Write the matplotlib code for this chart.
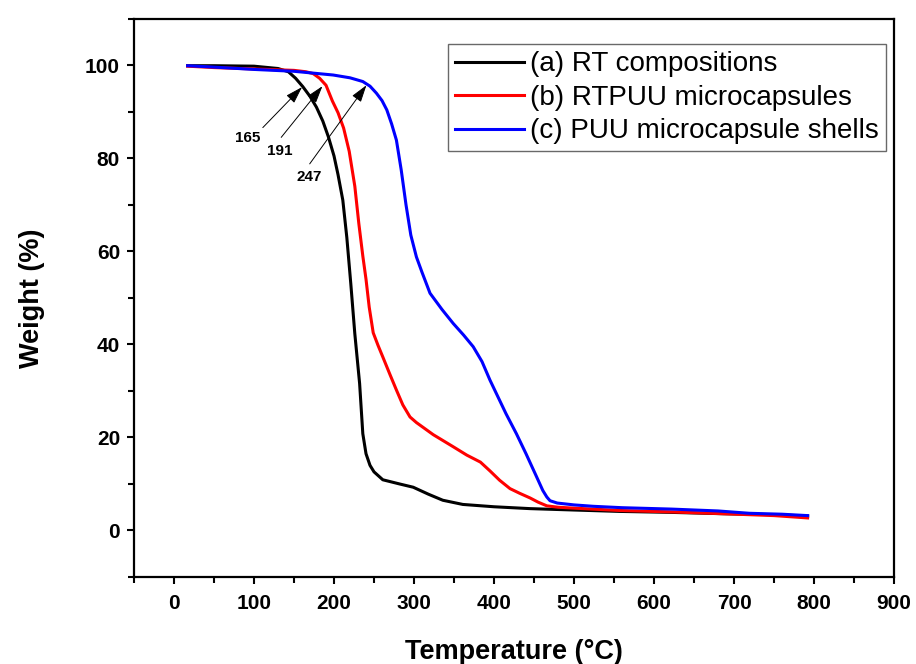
import matplotlib
matplotlib.use('Agg')
import matplotlib.pyplot as plt

plt.rcParams['font.family'] = ['Liberation Sans', 'DejaVu Sans']

# (a) RT compositions
temp_a = [17, 50, 100, 130, 143, 152, 161, 170, 178, 186, 193, 200, 205, 211, 216, 221,
          226, 232, 236, 240, 245, 250, 261, 282, 299, 318, 336, 361, 400, 445, 500, 557,
          620, 687, 750, 792]
weight_a = [99.9, 99.9, 99.8, 99.3, 98.6, 97.2, 95.4, 93.3, 91.0, 88.0, 84.6, 80.5, 76.5,
            71.0, 63.0, 53.0, 42.3, 31.6, 20.8, 16.5, 14.0, 12.6, 10.9, 10.0, 9.3, 7.8,
            6.5, 5.6, 5.1, 4.7, 4.4, 4.1, 3.9, 3.6, 3.4, 3.1]

# (b) RTPUU microcapsules
temp_b = [17, 50, 100, 150, 165, 174, 182, 190, 198, 205, 212, 219, 226, 231, 236, 240,
          244, 249, 255, 261, 270, 278, 286, 295, 303, 324, 349, 366, 383, 395, 407, 420,
          432, 445, 455, 466, 480, 500, 557, 620, 687, 750, 792]
weight_b = [99.8, 99.5, 99.2, 98.9, 98.6, 98.2, 97.2, 95.7, 92.3, 89.8, 86.5, 81.5, 74.0,
            66.0, 59.0, 54.0, 48.0, 42.5, 39.8, 37.3, 33.5, 30.2, 27.0, 24.4, 23.2, 20.6,
            18.0, 16.2, 14.7, 12.8, 10.8, 9.0, 8.0, 7.0, 6.1, 5.3, 5.0, 4.8, 4.3, 4.0,
            3.6, 3.2, 2.7]

# (c) PUU microcapsule shells
temp_c = [17, 50, 100, 150, 199, 220, 236, 245, 253, 260, 266, 272, 278, 284, 290, 296,
          303, 310, 320, 335, 349, 362, 374, 385, 395, 405, 415, 428, 440, 452, 461, 466,
          470, 479, 500, 524, 560, 622, 680, 719, 760, 792]
weight_c = [99.9, 99.6, 99.1, 98.7, 97.9, 97.3, 96.5, 95.5, 94.0, 92.4, 90.4, 87.4, 83.9,
            77.5, 70.0, 63.5, 58.8, 55.5, 51.0, 47.5, 44.5, 42.0, 39.5, 36.3, 32.3, 28.7,
            25.1, 20.8, 16.5, 12.0, 8.6, 7.2, 6.4, 5.9, 5.5, 5.2, 4.9, 4.6, 4.2, 3.7,
            3.5, 3.2]

labels = ['(a) RT compositions', '(b) RTPUU microcapsules', '(c) PUU microcapsule shells']

# onset temperatures: label, arrow tail, arrow tip, text position
onsets = [('165', (111, 86.6), (160, 95.3), (92.5, 84.3)),
          ('191', (134, 84.5), (185.5, 95.5), (132, 81.6)),
          ('247', (169.6, 78.8), (240.5, 95.7), (168.8, 76.0))]

fig = plt.figure(figsize=(9.16, 6.64), dpi=100)
ax = fig.add_axes([0.1463, 0.131, 0.8297, 0.8408])

ax.plot(temp_a, weight_a, color='black', lw=2.2, label=labels[0])
ax.plot(temp_b, weight_b, color='#ff0000', lw=2.2, label=labels[1])
ax.plot(temp_c, weight_c, color='#0000ff', lw=2.2, label=labels[2])

for txt, tail, tip, tpos in onsets:
    ax.annotate('', xy=tip, xytext=tail,
                arrowprops=dict(arrowstyle='-|>,head_length=0.7,head_width=0.22',
                                color='black', lw=0.7, shrinkA=0, shrinkB=0,
                                mutation_scale=15))
    ax.text(tpos[0], tpos[1], txt, fontsize=11, fontweight='bold',
            ha='center', va='center')

ax.set_xlim(-50, 900)
ax.set_ylim(-10, 110)
ax.set_xticks(range(0, 901, 100))
ax.set_xticks(range(-50, 901, 50), minor=True)
ax.set_yticks(range(0, 101, 20))
ax.set_yticks(range(-10, 111, 10), minor=True)
ax.tick_params(which='major', direction='out', length=5, width=1.5,
               labelsize=15, pad=5)
ax.tick_params(axis='x', which='major', pad=7)
ax.tick_params(which='minor', direction='out', length=4, width=1.5)
for lab in ax.get_xticklabels() + ax.get_yticklabels():
    lab.set_fontweight('bold')
for sp in ax.spines.values():
    sp.set_linewidth(1.6)

ax.set_xlabel('Temperature (°C)', fontsize=19.5, fontweight='bold', labelpad=19)
ax.set_ylabel('Weight (%)', fontsize=19.5, fontweight='bold', labelpad=29)

leg = ax.legend(loc='upper right', bbox_to_anchor=(0.989, 0.954), fontsize=20,
                frameon=True, fancybox=False, handlelength=2.5, handletextpad=0.2,
                labelspacing=0.27, borderpad=0.25, borderaxespad=0)
leg.get_frame().set_edgecolor('#444444')
leg.get_frame().set_linewidth(1.0)

fig.savefig('out.png', dpi=100)
